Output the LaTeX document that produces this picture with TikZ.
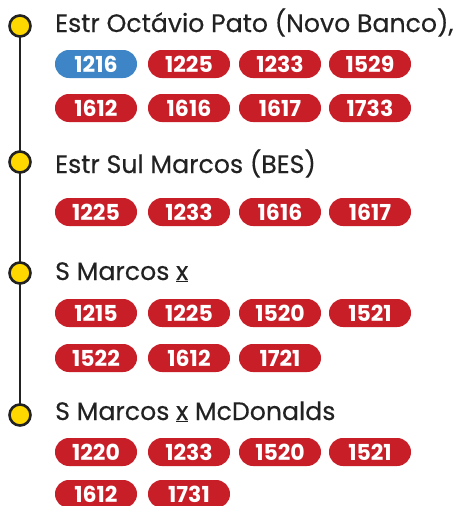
\documentclass[tikz,border=0pt]{standalone}
\usepackage{fontspec}
\setmainfont{Poppins}
\newfontfamily\titlefont[FakeBold=0.4]{Poppins}
\definecolor{pillred}{HTML}{C81E28}
\definecolor{pillblue}{HTML}{3D85C6}
\definecolor{stopyellow}{HTML}{FFD800}
\definecolor{darktext}{HTML}{222222}
\begin{document}
\begin{tikzpicture}[x=1pt,y=-1pt,
  pill/.style={rectangle, rounded corners=13.9pt, minimum width=82pt, minimum height=28pt,
    inner sep=0pt, fill=pillred, text=white, font=\fontsize{22}{22}\selectfont\bfseries},
  bluepill/.style={pill, fill=pillblue},
  stopdot/.style={circle, draw=darktext, line width=2.6pt, fill=stopyellow, minimum size=21pt, inner sep=0pt},
  title/.style={anchor=base west, inner sep=0pt, text=darktext, font=\titlefont\fontsize{25.2}{25}\selectfont}]
\useasboundingbox (0,0) rectangle (460,506);
% stops
\coordinate (s1) at (20,26);
\coordinate (s2) at (20,162);
\coordinate (s3) at (20,273);
\coordinate (s4) at (20,415);
\draw[darktext, line width=2.6pt] (s1) -- (s4);
\node[stopdot] (d1) at (s1) {};
\node[stopdot] (d2) at (s2) {};
\node[stopdot] (d3) at (s3) {};
\node[stopdot] (d4) at (s4) {};
% titles
\node[title] (t1) at (55,32) {Estr Octávio Pato (Novo Banco),};
\node[title] (t2) at (55,173) {Estr Sul Marcos (BES)};
\node[title] (t3) at (55,280) {S Marcos \underline{x}};
\node[title] (t4) at (55,420) {S Marcos \underline{x} McDonalds};
% section 1
\node[bluepill] (a1) at (96,64) {1216};
\node[pill] (a2) at (189,64) {1225};
\node[pill] (a3) at (280,64) {1233};
\node[pill] (a4) at (370,64) {1529};
\node[pill] (a5) at (96,108) {1612};
\node[pill] (a6) at (189,108) {1616};
\node[pill] (a7) at (280,108) {1617};
\node[pill] (a8) at (370,108) {1733};
% section 2
\node[pill] (b1) at (96,212) {1225};
\node[pill] (b2) at (189,212) {1233};
\node[pill] (b3) at (280,212) {1616};
\node[pill] (b4) at (370,212) {1617};
% section 3
\node[pill] (c1) at (96,313) {1215};
\node[pill] (c2) at (189,313) {1225};
\node[pill] (c3) at (280,313) {1520};
\node[pill] (c4) at (370,313) {1521};
\node[pill] (c5) at (96,358) {1522};
\node[pill] (c6) at (189,358) {1612};
\node[pill] (c7) at (280,358) {1721};
% section 4
\node[pill] (e1) at (96,452) {1220};
\node[pill] (e2) at (189,452) {1233};
\node[pill] (e3) at (280,452) {1520};
\node[pill] (e4) at (370,452) {1521};
\node[pill] (e5) at (96,494) {1612};
\node[pill] (e6) at (189,494) {1731};
\end{tikzpicture}
\end{document}
